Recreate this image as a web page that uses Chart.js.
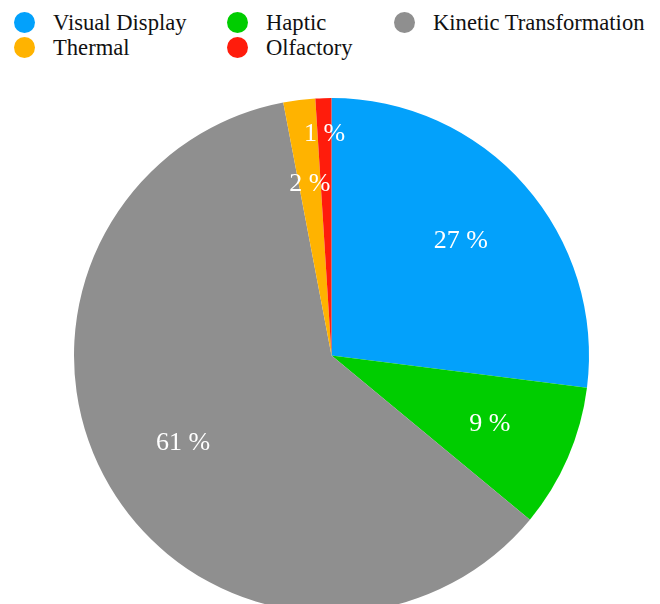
<!DOCTYPE html>
<html lang="en">
<head>
    <meta charset="UTF-8">
    <title>Feedback Modalities</title>
    <script src="https://cdn.jsdelivr.net/npm/chart.js@4/dist/chart.umd.min.js"></script>
    <style>
        html, body {
            margin: 0;
            width: 660px;
            height: 604px;
            overflow: hidden;
            background: #ffffff;
        }

        #legend {
            position: absolute;
            left: 14px;
            top: 10px;
            display: grid;
            grid-template-columns: 213px 167px auto;
            grid-auto-rows: 25px;
            font-family: "Liberation Serif", serif;
            font-size: 22.6px;
            color: #111111;
        }

        .item {
            display: flex;
            align-items: center;
            white-space: nowrap;
        }

        .dot {
            width: 21px;
            height: 21px;
            border-radius: 50%;
            margin-right: 18px;
            flex: none;
        }

        #wrap {
            position: absolute;
            left: 0;
            top: 98px;
            width: 663px;
            height: 515px;
        }
    </style>
</head>
<body>
    <div id="legend"></div>
    <div id="wrap"><canvas id="pieChart"></canvas></div>

    <script>
        const labels = ['Visual Display', 'Haptic', 'Kinetic Transformation', 'Thermal', 'Olfactory'];
        const shares = [27, 9, 61, 2, 1];
        const colors = ['#03a1fb', '#00cd00', '#8f8f8f', '#ffb300', '#ff1c0c'];

        // percentage text inside each slice, small slices pushed towards the rim
        const sliceLabels = {
            id: 'sliceLabels',
            afterDatasetsDraw(chart) {
                const ctx = chart.ctx;
                const meta = chart.getDatasetMeta(0);
                ctx.save();
                ctx.font = '26px "Liberation Serif", serif';
                ctx.fillStyle = '#ffffff';
                ctx.textAlign = 'center';
                ctx.textBaseline = 'middle';
                meta.data.forEach((arc, i) => {
                    const p = arc.getProps(['x', 'y', 'startAngle', 'endAngle', 'outerRadius']);
                    const mid = (p.startAngle + p.endAngle) / 2;
                    const r = p.outerRadius * (shares[i] < 1.5 ? 0.86 : 0.67);
                    ctx.fillText(shares[i] + ' %', p.x + Math.cos(mid) * r, p.y + Math.sin(mid) * r);
                });
                ctx.restore();
            }
        };

        const chart = new Chart(document.getElementById('pieChart'), {
            type: 'pie',
            data: {
                labels: labels,
                datasets: [{
                    data: shares,
                    backgroundColor: colors,
                    borderWidth: 0
                }]
            },
            options: {
                responsive: true,
                maintainAspectRatio: false,
                animation: false,
                layout: { padding: 0 },
                plugins: {
                    legend: { display: false },
                    tooltip: { enabled: false }
                }
            },
            plugins: [sliceLabels]
        });

        // legend laid out in columns, built from the chart data
        const legend = document.getElementById('legend');
        chart.data.labels.forEach((name, i) => {
            const item = document.createElement('div');
            item.className = 'item';
            const dot = document.createElement('span');
            dot.className = 'dot';
            dot.style.background = chart.data.datasets[0].backgroundColor[i];
            item.appendChild(dot);
            item.appendChild(document.createTextNode(name));
            legend.appendChild(item);
        });
    </script>
</body>
</html>
